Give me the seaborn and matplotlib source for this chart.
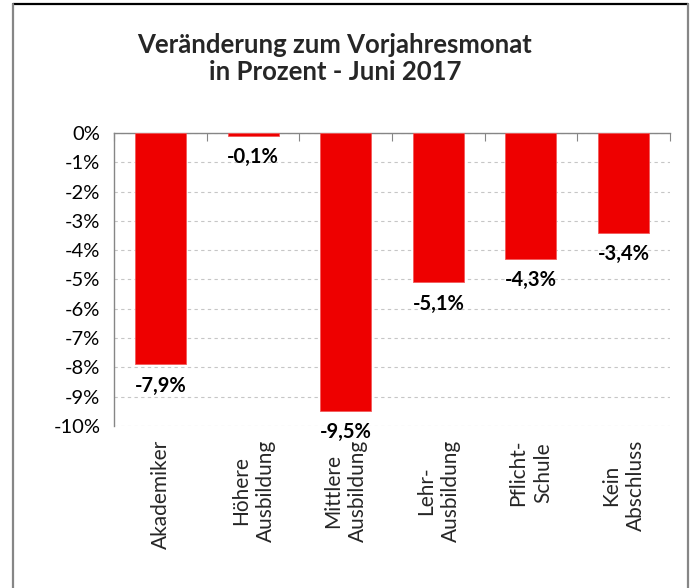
import matplotlib
matplotlib.use("Agg")
import matplotlib.pyplot as plt
import matplotlib.ticker as mtick
from matplotlib.lines import Line2D
import seaborn as sns
import numpy as np
import pandas as pd

# daten
kategorien = ['Akademiker', 'Höhere\nAusbildung', 'Mittlere\nAusbildung',
              'Lehr-\nAusbildung', 'Pflicht-\nSchule', 'Kein\nAbschluss']
veraenderung = [-7.9, -0.1, -9.5, -5.1, -4.3, -3.4]

rot = '#EE0000'
grau_achse = '#868686'
grau_gitter = '#C6C6C6'

sns.set_theme(style="white")
plt.rcParams['font.family'] = ['Lato', 'DejaVu Sans']

df = pd.DataFrame({'kategorie': kategorien, 'wert': veraenderung})

fig = plt.figure(figsize=(6.92, 5.88), dpi=100)
ax = fig.add_axes([0.165, 0.2755, 0.803, 0.4985])

sns.barplot(data=df, x='kategorie', y='wert', color=rot, saturation=1,
            width=0.55, edgecolor='#F25A5A', linewidth=0.6, ax=ax, zorder=3)

ax.set_ylim(-10, 0)
ax.set_xlim(-0.5, len(kategorien) - 0.5)
ax.yaxis.set_major_locator(mtick.MultipleLocator(1))
ax.yaxis.set_major_formatter(mtick.FuncFormatter(lambda v, p: f"{int(round(v))}%"))
ax.grid(axis='y', color=grau_gitter, linestyle=(0, (3, 3)), linewidth=0.8, zorder=0)
ax.grid(axis='x', visible=False)

for s in ['right', 'bottom']:
    ax.spines[s].set_visible(False)
for s in ['left', 'top']:
    ax.spines[s].set_color(grau_achse)
    ax.spines[s].set_linewidth(1.0)

ax.tick_params(axis='y', direction='out', length=6, color=grau_achse, width=0.8,
               labelsize=14.5, labelcolor='black', pad=4)
ax.tick_params(axis='x', which='major', length=0, labelsize=15, pad=10)
ax.set_xticks(np.arange(-0.5, len(kategorien), 1), minor=True)
ax.tick_params(axis='x', which='minor', bottom=False, top=True, direction='in',
               length=6, color=grau_achse, width=0.8)
ax.set_xticklabels(kategorien, rotation=90, ha='center', va='top',
                   multialignment='center', linespacing=1.3)
ax.set_xlabel('')
ax.set_ylabel('')

# werte unter den balken
for i, v in enumerate(veraenderung):
    ax.annotate(f"{v:.1f}%".replace('.', ','), (i, v), xytext=(0, -8),
                textcoords='offset points', ha='center', va='top',
                fontsize=14.5, fontweight='bold', color='black', zorder=5)

fig.text(0.484, 1 - 33 / 588, 'Veränderung zum Vorjahresmonat\nin Prozent - Juni 2017',
         ha='center', va='top', fontsize=18.5, fontweight='bold', linespacing=1.15)

# rahmen ums diagramm
fig.add_artist(Line2D([13 / 692, 688 / 692], [1 - 4 / 588, 1 - 4 / 588],
                      transform=fig.transFigure, color='black', linewidth=1.6))
fig.add_artist(Line2D([13 / 692, 13 / 692], [0, 1 - 4 / 588],
                      transform=fig.transFigure, color=grau_achse, linewidth=1.6))
fig.add_artist(Line2D([688 / 692, 688 / 692], [0, 1 - 4 / 588],
                      transform=fig.transFigure, color=grau_achse, linewidth=1.6))

fig.savefig('out.png', dpi=100, facecolor='white')
